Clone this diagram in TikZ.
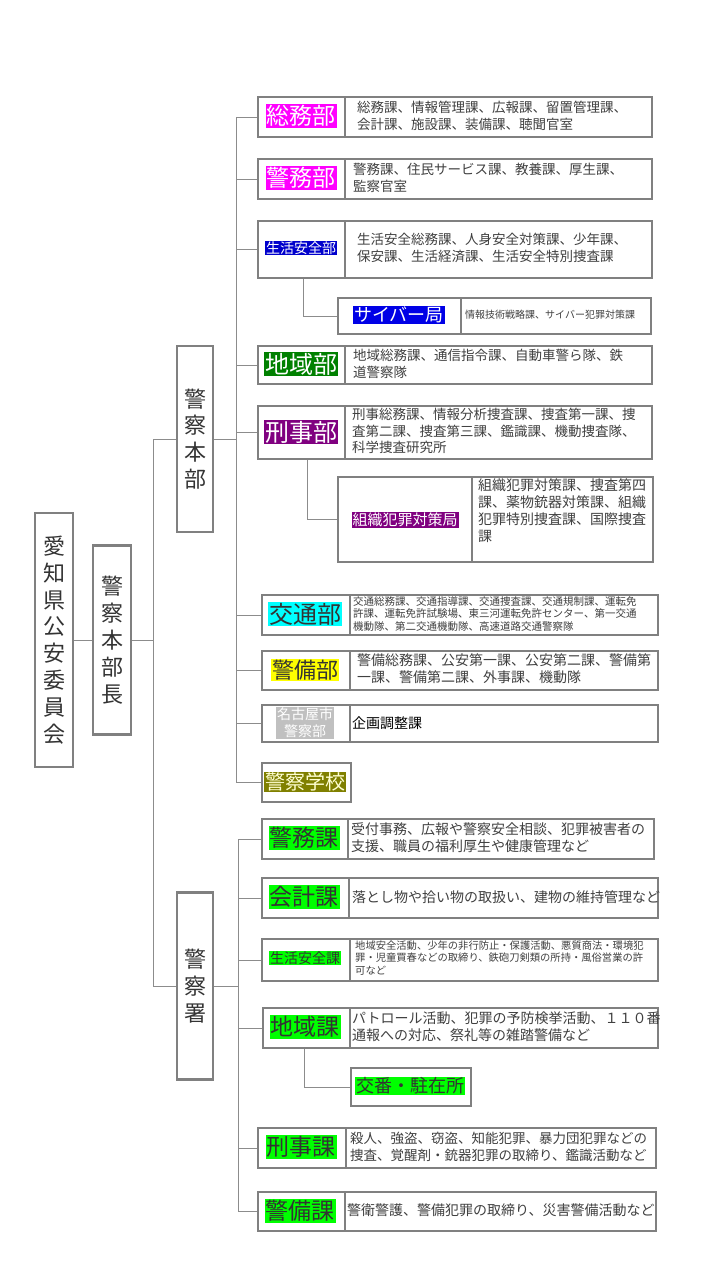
\documentclass[tikz,border=0pt]{standalone}
\usepackage{fontspec}
\setmainfont{Noto Sans CJK JP}
\definecolor{bord}{HTML}{808080}
\definecolor{conn}{HTML}{8C8C8C}
\definecolor{txt}{HTML}{404040}
\definecolor{dk}{HTML}{333333}
\definecolor{mag}{HTML}{FF00FF}
\definecolor{cya}{HTML}{00FFFF}
\definecolor{yel}{HTML}{FFFF00}
\newcommand\fs[1]{\fontsize{#1pt}{1.22\dimexpr#1pt\relax}\selectfont}
\newcommand\orgbox[6]{%
 \node[obox, minimum width={(#4-#2)*1pt}, minimum height={(#5-#3)*1pt}, anchor=north west] (#1) at (#2,#3) {};
 \draw[obord] (#6,#3) -- (#6,#5);}
\begin{document}
\begin{tikzpicture}[x=1pt,y=-1pt,
 obox/.style={draw=bord, line width=2.4pt, fill=white, inner sep=0pt},
 obord/.style={draw=bord, line width=2.4pt},
 vbox/.style={draw=bord, line width=2.4pt, fill=white, inner sep=0pt, align=center, font=\fs{22}, text=dk},
 cn/.style={draw=conn, line width=1pt},
 lab/.style={inner sep=1pt, align=center},
 desc/.style={anchor=west, align=left, text=txt, inner sep=0pt}]
\useasboundingbox[fill=white] (0,0) rectangle (720,1280);
% left column
\node[vbox, minimum width=38pt, minimum height=254pt] (iinkai) at (54,640) {愛\\知\\県\\公\\安\\委\\員\\会};
\node[vbox, minimum width=38pt, minimum height=189pt] (chou) at (112,640) {警\\察\\本\\部\\長};
\node[vbox, minimum width=36pt, minimum height=186pt] (honbu) at (195,439) {警\\察\\本\\部};
\node[vbox, minimum width=36pt, minimum height=187pt] (sho) at (195,986) {警\\察\\署};
\coordinate (t0) at (153,0);
\coordinate (t1) at (236,0);
\coordinate (t2) at (238,0);
\draw[cn] (iinkai.east) -- (chou.west);
\draw[cn] (chou.east) -- (chou.east -| t0);
\draw[cn] (t0 |- honbu.west) -- (t0 |- sho.west);
\draw[cn] (t0 |- honbu.west) -- (honbu.west);
\draw[cn] (t0 |- sho.west) -- (sho.west);
% honbu departments
\orgbox{soumu}{257}{96}{651}{136}{345}
\node[lab, fill=mag, text=white, font=\fs{23}] at (301,116) {総務部};
\node[desc, font=\fs{13.5}] at (357,116) {総務課、情報管理課、広報課、留置管理課、\\会計課、施設課、装備課、聴聞官室};
\orgbox{keimu}{257}{158}{651}{198}{345}
\node[lab, fill=mag, text=white, font=\fs{23}] at (301,178) {警務部};
\node[desc, font=\fs{13.5}] at (353,178) {警務課、住民サービス課、教養課、厚生課、\\監察官室};
\orgbox{seian}{257}{220}{651}{277}{345}
\node[lab, fill={rgb,255:red,0;green,0;blue,204}, text=white, font=\fs{14}] at (301,248) {生活安全部};
\node[desc, font=\fs{13.5}] at (357,248) {生活安全総務課、人身安全対策課、少年課、\\保安課、生活経済課、生活安全特別捜査課};
\orgbox{cyber}{337}{297}{650}{333}{461}
\node[lab, fill={rgb,255:red,0;green,0;blue,230}, text=white, font=\fs{18}] at (399,315) {サイバー局};
\node[desc, font=\fs{10}] at (465,315) {情報技術戦略課、サイバー犯罪対策課};
\orgbox{chiiki}{257}{345}{651}{383}{345}
\node[lab, fill={rgb,255:red,0;green,128;blue,0}, text=white, font=\fs{24}] at (301,364) {地域部};
\node[desc, font=\fs{13.5}] at (353,364) {地域総務課、通信指令課、自動車警ら隊、鉄\\道警察隊};
\orgbox{keiji}{257}{405}{651}{458}{345}
\node[lab, fill={rgb,255:red,128;green,0;blue,128}, text=white, font=\fs{24}] at (301,432) {刑事部};
\node[desc, font=\fs{13.5}] at (352,431) {刑事総務課、情報分析捜査課、捜査第一課、捜\\査第二課、捜査第三課、鑑識課、機動捜査隊、\\科学捜査研究所};
\orgbox{soshiki}{337}{476}{652}{561}{472}
\node[lab, fill={rgb,255:red,128;green,0;blue,128}, text=white, font=\fs{15}] at (405,520) {組織犯罪対策局};
\node[desc, font=\fs{14}] at (478,511) {組織犯罪対策課、捜査第四\\課、薬物銃器対策課、組織\\犯罪特別捜査課、国際捜査\\課};
\orgbox{koutsu}{261}{594}{657}{634}{350}
\node[lab, fill=cya, text=dk, font=\fs{24}] at (305,614) {交通部};
\node[desc, font=\fs{10.5}] at (353,614) {交通総務課、交通指導課、交通捜査課、交通規制課、運転免\\許課、運転免許試験場、東三河運転免許センター、第一交通\\機動隊、第二交通機動隊、高速道路交通警察隊};
\orgbox{keibi}{261}{650}{657}{689}{350}
\node[lab, fill=yel, text=dk, font=\fs{22}] at (305,670) {警備部};
\node[desc, font=\fs{14}] at (357,669) {警備総務課、公安第一課、公安第二課、警備第\\一課、警備第二課、外事課、機動隊};
\orgbox{nagoya}{261}{704}{657}{741}{350}
\node[lab, fill={rgb,255:red,192;green,192;blue,192}, text=white, font=\fs{14}] at (305,723) {名古屋市\\警察部};
\node[desc, font=\fs{14}, text=black] at (352,723) {企画調整課};
\node[obox, minimum width=89pt, minimum height=39pt, anchor=north west] (gakko) at (261,762) {};
\node[lab, fill={rgb,255:red,128;green,128;blue,0}, text={rgb,255:red,255;green,255;blue,210}, font=\fs{20}] at (305,782) {警察学校};
% honbu connectors
\draw[cn] (honbu.east) -- (honbu.east -| t1);
\draw[cn] (t1 |- soumu.west) -- (t1 |- gakko.west);
\foreach \n in {soumu,keimu,seian,chiiki,keiji,koutsu,keibi,nagoya,gakko}
  \draw[cn] (t1 |- \n.west) -- (\n.west);
\coordinate (c1) at (303,0);
\draw[cn] (c1 |- seian.south) -- (c1 |- cyber.west) -- (cyber.west);
\coordinate (c2) at (307,0);
\draw[cn] (c2 |- keiji.south) -- (c2 |- soshiki.west) -- (soshiki.west);
% police station sections
\orgbox{skeimu}{261}{818}{653}{858}{348}
\node[lab, fill={rgb,255:red,0;green,255;blue,0}, text=dk, font=\fs{23}] at (304,838) {警務課};
\node[desc, font=\fs{14}] at (351,838) {受付事務、広報や警察安全相談、犯罪被害者の\\支援、職員の福利厚生や健康管理など};
\orgbox{skaikei}{261}{877}{657}{917}{349}
\node[lab, fill={rgb,255:red,0;green,255;blue,0}, text=dk, font=\fs{23}] at (304,897) {会計課};
\node[desc, font=\fs{14}] at (352,897) {落とし物や拾い物の取扱い、建物の維持管理など};
\orgbox{sseian}{261}{938}{657}{980}{350}
\node[lab, fill={rgb,255:red,0;green,255;blue,0}, text=dk, font=\fs{14}] at (305,958) {生活安全課};
\node[desc, font=\fs{10.3}] at (355,958) {地域安全活動、少年の非行防止・保護活動、悪質商法・環境犯\\罪・児童買春などの取締り、鉄砲刀剣類の所持・風俗営業の許\\可など};
\orgbox{schiiki}{262}{1007}{657}{1047}{350}
\node[lab, fill={rgb,255:red,0;green,255;blue,0}, text=dk, font=\fs{23}] at (305,1027) {地域課};
\node[desc, font=\fs{14}] at (352,1027) {パトロール活動、犯罪の予防検挙活動、１１０番\\通報への対応、祭礼等の雑踏警備など};
\node[obox, minimum width=120pt, minimum height=38pt, anchor=north west] (kouban) at (350,1067) {};
\node[lab, fill={rgb,255:red,0;green,255;blue,0}, text=dk, font=\fs{18}] at (410,1086) {交番・駐在所};
\orgbox{skeiji}{257}{1127}{655}{1167}{346}
\node[lab, fill={rgb,255:red,0;green,255;blue,0}, text=dk, font=\fs{23}] at (301,1147) {刑事課};
\node[desc, font=\fs{13.5}] at (350,1147) {殺人、強盗、窃盗、知能犯罪、暴力団犯罪などの\\捜査、覚醒剤・銃器犯罪の取締り、鑑識活動など};
\orgbox{skeibi}{257}{1191}{655}{1230}{345}
\node[lab, fill={rgb,255:red,0;green,255;blue,0}, text=dk, font=\fs{23}] at (300,1211) {警備課};
\node[desc, font=\fs{14}] at (347,1210) {警衛警護、警備犯罪の取締り、災害警備活動など};
% station connectors
\draw[cn] (sho.east) -- (sho.east -| t2);
\draw[cn] (t2 |- skeimu.west) -- (t2 |- skeibi.west);
\foreach \n in {skeimu,skaikei,sseian,schiiki,skeiji,skeibi}
  \draw[cn] (t2 |- \n.west) -- (\n.west);
\coordinate (c3) at (304,0);
\draw[cn] (c3 |- schiiki.south) -- (c3 |- kouban.west) -- (kouban.west);
\end{tikzpicture}
\end{document}
